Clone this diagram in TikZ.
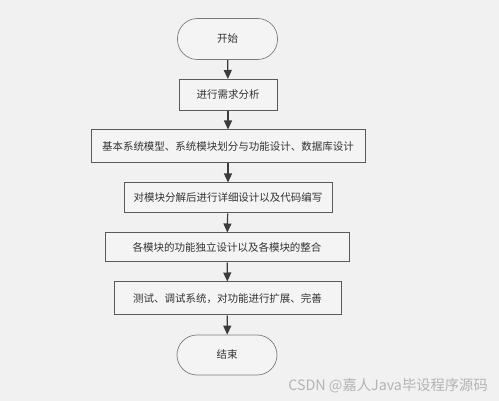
\documentclass[tikz,border=0pt]{standalone}
\usepackage{fontspec}
\newfontfamily\cjk{Noto Sans CJK SC}
\usetikzlibrary{arrows.meta}

\definecolor{fondo}{HTML}{F1F1F1}
\definecolor{caja}{HTML}{F4F4F4}
\definecolor{borde}{HTML}{5A5A5A}
\definecolor{flecha}{HTML}{3C3C3C}
\definecolor{marca}{HTML}{B4B4B4}

\begin{document}
\begin{tikzpicture}[x=1pt, y=-1pt,
    paso/.style={draw=borde, line width=1pt, fill=caja, inner sep=0pt,
        font=\cjk\fontsize{10.5}{12}\selectfont, text=black!80},
    terminal/.style={draw=borde!80, line width=0.7pt, fill=caja, rounded corners=20pt,
        minimum width=100pt, minimum height=41pt,
        font=\cjk\fontsize{10.5}{12}\selectfont, text=black!80},
    flujo/.style={draw=flecha, line width=1.2pt, -{Triangle[length=9pt, width=8pt]}}]
    % Fondo
    \fill[fondo] (0,0) rectangle (499,401);
    \useasboundingbox (0,0) rectangle (499,401);

    % Inicio y fin
    \node[terminal] (inicio) at (227.5,39) {开始};
    \node[terminal, minimum height=40pt] (fin) at (227,355) {结束};

    % Pasos
    \node[paso, minimum width=98pt, minimum height=31pt] (req) at (228,95) {进行需求分析};
    \node[paso, minimum width=274pt, minimum height=33pt] (modelo) at (228,146.5) {基本系统模型、系统模块划分与功能设计、数据库设计};
    \node[paso, minimum width=208pt, minimum height=30pt] (detalle) at (228,198) {对模块分解后进行详细设计以及代码编写};
    \node[paso, minimum width=244pt, minimum height=29pt] (integra) at (227,247.5) {各模块的功能独立设计以及各模块的整合};
    \node[paso, minimum width=227pt, minimum height=33pt] (prueba) at (227.5,298.5) {测试、调试系统，对功能进行扩展、完善};

    % Flechas
    \draw[flujo] (inicio) -- (req);
    \draw[flujo] (req) -- (modelo);
    \draw[flujo] (modelo) -- (detalle);
    \draw[flujo] (detalle) -- (integra);
    \draw[flujo] (integra) -- (prueba);
    \draw[flujo] (prueba) -- (fin);

    % Marca de agua
    \node[anchor=base east, inner sep=0pt, text=marca, font=\cjk\fontsize{14.3}{16}\selectfont] (marca) at (488,391) {CSDN @嘉人Java毕设程序源码};
\end{tikzpicture}
\end{document}
